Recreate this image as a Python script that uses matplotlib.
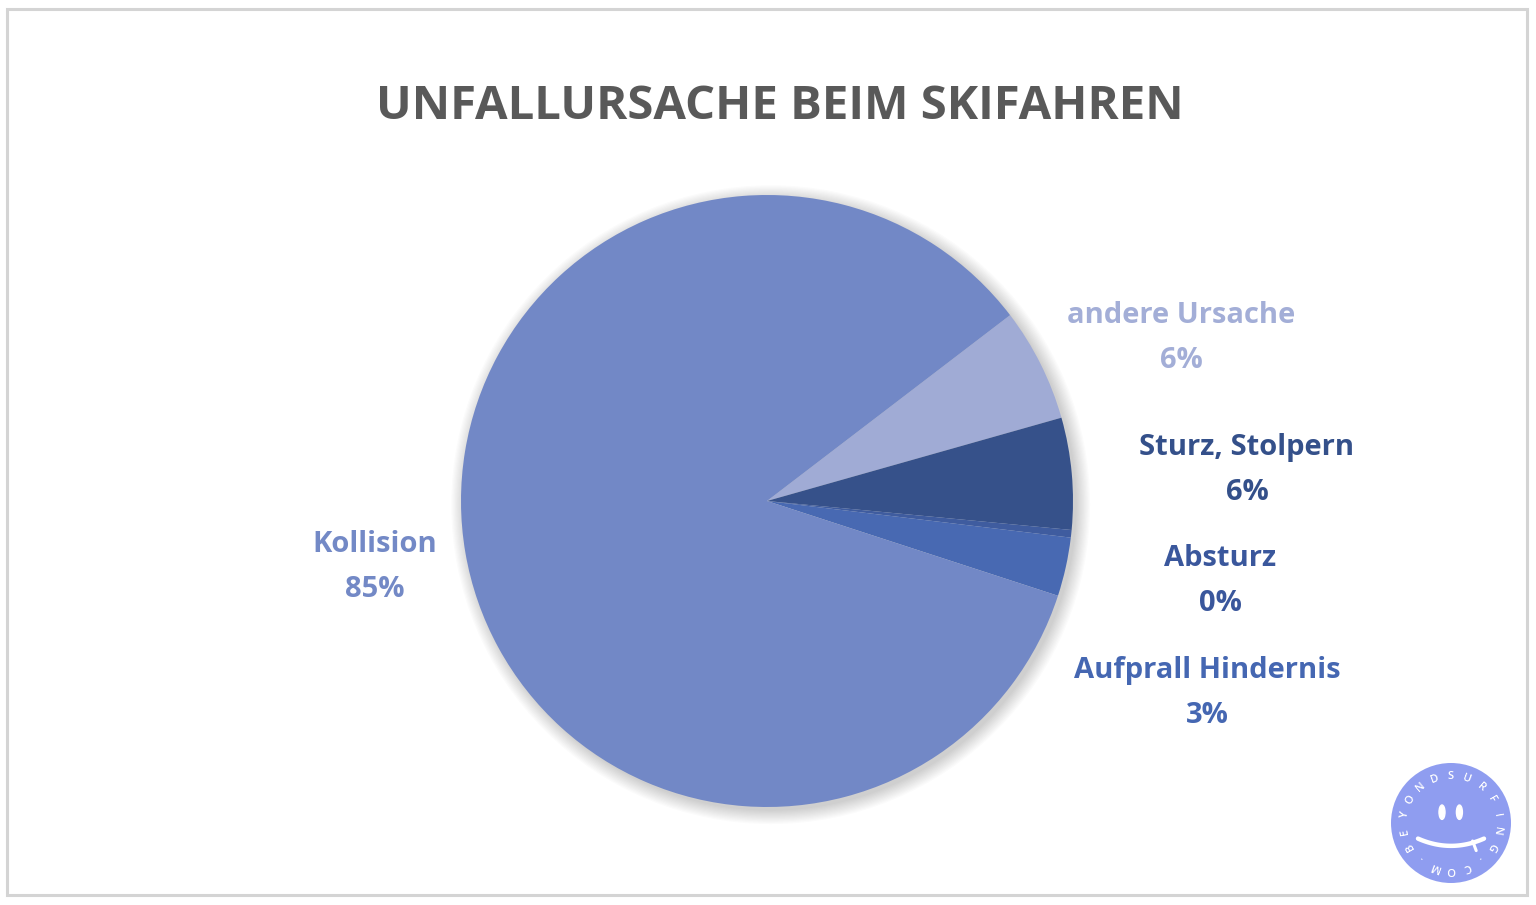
import numpy as np
import matplotlib
matplotlib.use("Agg")
import matplotlib.pyplot as plt
from matplotlib.patches import Circle, Ellipse, Rectangle

# Daten
kategorien = ["andere Ursache", "Sturz, Stolpern", "Absturz", "Aufprall Hindernis", "Kollision"]
werte = [6.0, 5.9, 0.4, 3.1, 84.6]
farben = ["#A0ABD5", "#36518A", "#3F5C9F", "#4869B2", "#7288C6"]
label_farben = ["#A3AED7", "#34508A", "#3A579C", "#4567B2", "#7389C6"]

W, H = 1536, 905
FONT = "Open Sans"

fig = plt.figure(figsize=(W / 100, H / 100), dpi=100)
fig.patch.set_facecolor("white")


def px(x, y):
    return x / W, 1 - y / H


# Rahmen
fig.patches.append(Rectangle(px(7, 895), (1527 - 7) / W, (895 - 9) / H,
                             transform=fig.transFigure, fill=False,
                             edgecolor="#D4D4D4", linewidth=2.2))

# Titel
fig.text(*px(780, 106), "UNFALLURSACHE BEIM SKIFAHREN", ha="center", va="center",
         fontsize=34, fontweight="bold", color="#595959", family=FONT)

# Kreisdiagramm
cx, cy, r = 767, 501, 306
ax = fig.add_axes([(cx - r) / W, (H - cy - r) / H, 2 * r / W, 2 * r / H])

# weicher Schatten
for i in range(12):
    ax.add_patch(Circle((0.012, -0.012), 1.0 + 0.004 * i, color="black",
                        alpha=0.016, lw=0, zorder=0, clip_on=False))

ax.pie(werte, colors=farben, startangle=37.4, counterclock=False,
       wedgeprops=dict(linewidth=0, zorder=2))
ax.set_xlim(-1, 1)
ax.set_ylim(-1, 1)
ax.set_aspect("equal")
ax.axis("off")

# Beschriftungen
label_pos = [(1181, 338), (1247, 470), (1220, 581), (1207, 693), (375, 567)]
gesamt = sum(werte)
for name, wert, farbe, (lx, ly) in zip(kategorien, werte, label_farben, label_pos):
    fig.text(*px(lx, ly), f"{name}\n{round(wert / gesamt * 100):.0f}%",
             ha="center", va="center", fontsize=21, fontweight="bold",
             color=farbe, family=FONT, linespacing=1.72)

# Logo unten rechts
lx, ly, lr = 1451, 823, 60
lax = fig.add_axes([(lx - lr) / W, (H - ly - lr) / H, 2 * lr / W, 2 * lr / H])
lax.set_xlim(-1, 1)
lax.set_ylim(-1, 1)
lax.set_aspect("equal")
lax.axis("off")
lax.add_patch(Circle((0, 0), 1.0, color="#8F9DF0", lw=0))
lax.add_patch(Ellipse((-0.15, 0.18), 0.1, 0.24, color="white"))
lax.add_patch(Ellipse((0.14, 0.18), 0.1, 0.24, color="white"))
t = np.linspace(-0.55, 0.55, 40)
lax.plot(t, -0.26 - 0.4 * (0.55 ** 2 - t ** 2), color="white", lw=3.2,
         solid_capstyle="round")
lax.plot([0.36, 0.42], [-0.3, -0.46], color="white", lw=2.2, solid_capstyle="round")
logo_text = "BEYONDSURFING.COM."
for i, ch in enumerate(logo_text):
    ang = np.deg2rad(210 - 20 * i)
    lax.text(0.78 * np.cos(ang), 0.78 * np.sin(ang), ch, color="white",
             fontsize=8, fontweight="semibold", ha="center", va="center",
             family=FONT, rotation=np.rad2deg(ang) - 90)

fig.savefig("out.png", dpi=100)
